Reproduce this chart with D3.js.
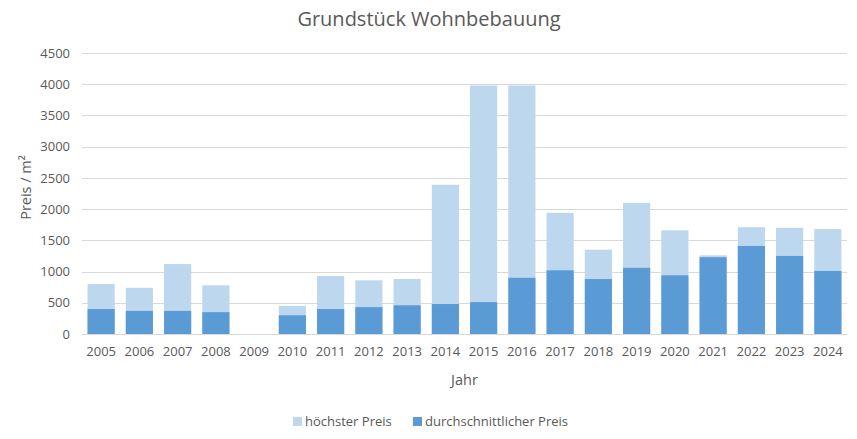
<!DOCTYPE html>
<html>
<head>
<meta charset="utf-8">
<script src="https://cdn.jsdelivr.net/npm/d3@7"></script>
<style>
  body { margin: 0; background: #fff; }
</style>
</head>
<body>
<div id="chart"></div>
<script>
// Data
const years = ["2005", "2006", "2007", "2008", "2009", "2010", "2011", "2012", "2013", "2014",
               "2015", "2016", "2017", "2018", "2019", "2020", "2021", "2022", "2023", "2024"];
const highest = [800, 740, 1120, 780, 0, 450, 930, 860, 880, 2390,
                 3980, 3980, 1940, 1350, 2100, 1660, 1260, 1710, 1700, 1680];
const average = [400, 370, 370, 350, 0, 300, 400, 430, 460, 480,
                 510, 900, 1020, 880, 1060, 940, 1230, 1410, 1250, 1010];
const yTicks = [0, 500, 1000, 1500, 2000, 2500, 3000, 3500, 4000, 4500];

const width = 857, height = 439;
const margin = { top: 53, right: 10, bottom: 105, left: 82 };
const plotWidth = width - margin.left - margin.right;
const plotHeight = height - margin.top - margin.bottom;
const textColor = "#595959";
const font = "'Open Sans', sans-serif";

const svg = d3.select("#chart").append("svg")
    .attr("width", width)
    .attr("height", height)
    .style("font-family", font);

const x = d3.scaleBand()
    .domain(years)
    .range([0, plotWidth])
    .paddingInner(0.29)
    .paddingOuter(0.145);

const y = d3.scaleLinear()
    .domain([0, 4500])
    .range([plotHeight, 0]);

const g = svg.append("g")
    .attr("transform", `translate(${margin.left},${margin.top})`);

// gridlines
g.append("g")
    .selectAll("line")
    .data(yTicks)
    .join("line")
    .attr("x1", 0)
    .attr("x2", plotWidth)
    .attr("y1", d => Math.round(y(d)) + 0.5)
    .attr("y2", d => Math.round(y(d)) + 0.5)
    .attr("stroke", "#d9d9d9")
    .attr("stroke-width", 1);

// y axis labels
const yAxis = g.append("g")
    .call(d3.axisLeft(y).tickValues(yTicks).tickFormat(d3.format("d")).tickSize(0).tickPadding(12));
yAxis.select(".domain").remove();
yAxis.selectAll("text")
    .style("font-family", font)
    .style("font-size", "13px")
    .attr("fill", textColor);

// bars: highest price behind, average in front
g.append("g")
    .selectAll("rect")
    .data(years)
    .join("rect")
    .attr("x", d => x(d))
    .attr("width", x.bandwidth())
    .attr("y", (d, i) => y(highest[i]))
    .attr("height", (d, i) => plotHeight - y(highest[i]))
    .attr("fill", "#bdd7ee");

g.append("g")
    .selectAll("rect")
    .data(years)
    .join("rect")
    .attr("x", d => x(d))
    .attr("width", x.bandwidth())
    .attr("y", (d, i) => y(average[i]))
    .attr("height", (d, i) => plotHeight - y(average[i]))
    .attr("fill", "#5b9bd5");

// x axis
const xAxis = g.append("g")
    .attr("transform", `translate(0,${plotHeight})`)
    .call(d3.axisBottom(x).tickSize(0).tickPadding(13));
xAxis.select(".domain").attr("stroke", "#d9d9d9");
xAxis.selectAll("text")
    .style("font-family", font)
    .style("font-size", "13px")
    .attr("fill", textColor);

// axis titles
svg.append("text")
    .attr("x", margin.left + plotWidth / 2)
    .attr("y", 385)
    .attr("text-anchor", "middle")
    .style("font-size", "14.5px")
    .attr("fill", textColor)
    .text("Jahr");

svg.append("text")
    .attr("transform", `translate(31,${margin.top + plotHeight / 2 - 6}) rotate(-90)`)
    .attr("text-anchor", "middle")
    .style("font-size", "14.5px")
    .attr("fill", textColor)
    .text("Preis / m²");

// title
svg.append("text")
    .attr("x", 429)
    .attr("y", 26)
    .attr("text-anchor", "middle")
    .style("font-size", "20px")
    .attr("fill", textColor)
    .text("Grundstück Wohnbebauung");

// legend
const legendItems = [
    { label: "höchster Preis", color: "#bdd7ee", x: 293 },
    { label: "durchschnittlicher Preis", color: "#5b9bd5", x: 413 }
];
const legend = svg.append("g")
    .selectAll("g")
    .data(legendItems)
    .join("g")
    .attr("transform", d => `translate(${d.x},421)`);
legend.append("rect")
    .attr("x", 0)
    .attr("y", -4)
    .attr("width", 9)
    .attr("height", 9)
    .attr("fill", d => d.color);
legend.append("text")
    .attr("x", 12)
    .attr("y", 5)
    .style("font-size", "13px")
    .attr("fill", textColor)
    .text(d => d.label);
</script>
</body>
</html>
